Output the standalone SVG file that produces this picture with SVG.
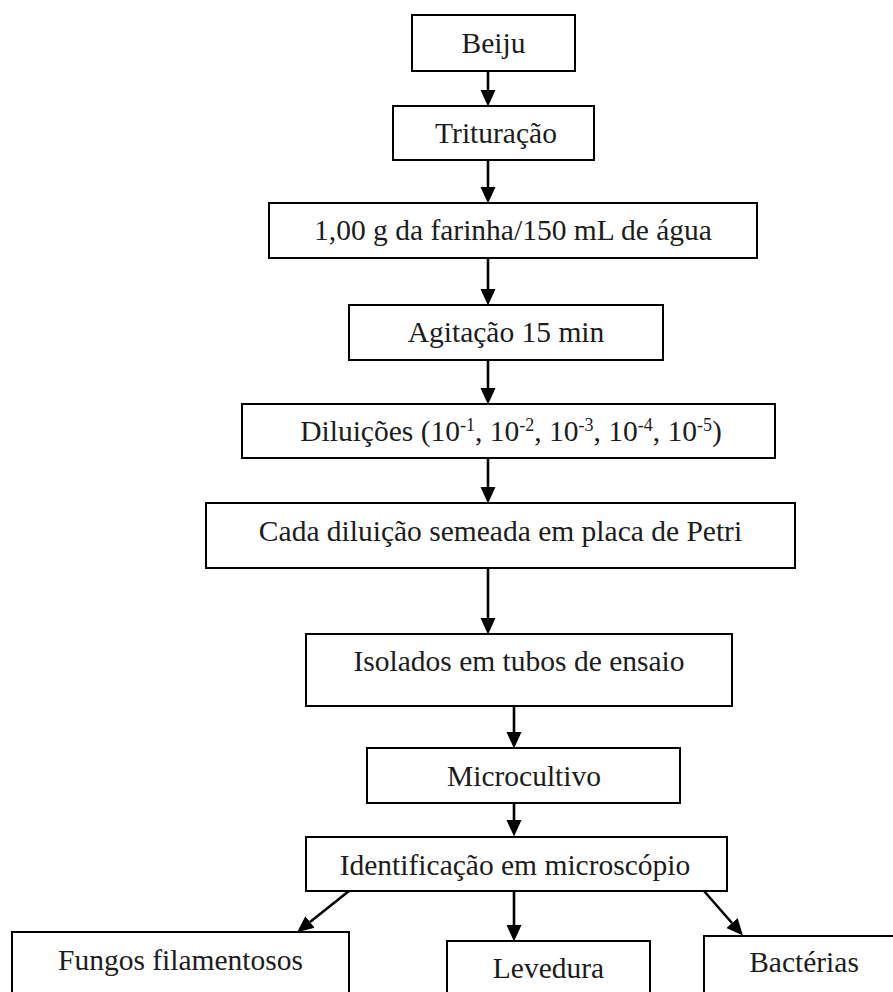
<svg xmlns="http://www.w3.org/2000/svg" width="893" height="992" viewBox="0 0 893 992">
<defs>
<style>
.box{fill:#fff;stroke:#000;stroke-width:2}
.lbl{font-family:"Liberation Serif","Times New Roman",serif;font-size:29.5px;fill:#1c1c1c;text-anchor:middle}
.sup{font-size:18px}
.con{stroke:#000;stroke-width:2.6;fill:none}
</style>
<marker id="ah" markerUnits="userSpaceOnUse" markerWidth="17" markerHeight="16" refX="0" refY="7.5" orient="auto" viewBox="0 0 17 15">
<path d="M0,0 L16.5,7.5 L0,15 z" fill="#000"/>
</marker>
</defs>
<rect width="893" height="992" fill="#fff"/>
<g id="connectors">
<line class="con" x1="488" y1="71" x2="488" y2="90" marker-end="url(#ah)"/>
<line class="con" x1="488" y1="160" x2="488" y2="187" marker-end="url(#ah)"/>
<line class="con" x1="488" y1="258" x2="488" y2="289" marker-end="url(#ah)"/>
<line class="con" x1="488" y1="360" x2="488" y2="388" marker-end="url(#ah)"/>
<line class="con" x1="488" y1="458" x2="488" y2="487" marker-end="url(#ah)"/>
<line class="con" x1="488" y1="568" x2="488" y2="618" marker-end="url(#ah)"/>
<line class="con" x1="514" y1="706" x2="514" y2="732" marker-end="url(#ah)"/>
<line class="con" x1="514" y1="803" x2="514" y2="820" marker-end="url(#ah)"/>
<line class="con" x1="349" y1="891" x2="310" y2="922" marker-end="url(#ah)"/>
<line class="con" x1="514" y1="891" x2="514" y2="925" marker-end="url(#ah)"/>
<line class="con" x1="704" y1="891" x2="732" y2="923" marker-end="url(#ah)"/>
</g>
<g id="n-beiju"><rect class="box" x="412" y="15" width="163" height="56"/><text class="lbl" x="493.5" y="53">Beiju</text></g>
<g id="n-trituracao"><rect class="box" x="393" y="106" width="201" height="54"/><text class="lbl" x="496" y="143">Trituração</text></g>
<g id="n-farinha"><rect class="box" x="269" y="203" width="488" height="55"/><text class="lbl" x="513" y="240">1,00 g da farinha/150 mL de água</text></g>
<g id="n-agitacao"><rect class="box" x="349" y="305" width="314" height="55"/><text class="lbl" x="506" y="342">Agitação 15 min</text></g>
<g id="n-diluicoes"><rect class="box" x="242" y="404" width="533" height="54"/><text class="lbl" x="511" y="441">Diluições (10<tspan class="sup" dy="-10">-1</tspan><tspan dy="10">, 10</tspan><tspan class="sup" dy="-10">-2</tspan><tspan dy="10">, 10</tspan><tspan class="sup" dy="-10">-3</tspan><tspan dy="10">, 10</tspan><tspan class="sup" dy="-10">-4</tspan><tspan dy="10">, 10</tspan><tspan class="sup" dy="-10">-5</tspan><tspan dy="10">)</tspan></text></g>
<g id="n-cada"><rect class="box" x="206" y="503" width="589" height="65"/><text class="lbl" x="500.5" y="541">Cada diluição semeada em placa de Petri</text></g>
<g id="n-isolados"><rect class="box" x="306" y="634" width="426" height="72"/><text class="lbl" x="519" y="671">Isolados em tubos de ensaio</text></g>
<g id="n-microcultivo"><rect class="box" x="367" y="748" width="313" height="55"/><text class="lbl" x="524" y="786">Microcultivo</text></g>
<g id="n-identificacao"><rect class="box" x="306" y="837" width="421" height="54"/><text class="lbl" x="515" y="875">Identificação em microscópio</text></g>
<g id="n-fungos"><rect class="box" x="12" y="932" width="337" height="80"/><text class="lbl" x="180.5" y="970">Fungos filamentosos</text></g>
<g id="n-levedura"><rect class="box" x="447" y="941" width="203" height="70"/><text class="lbl" x="548.5" y="978">Levedura</text></g>
<g id="n-bacterias"><rect class="box" x="704" y="936" width="205" height="70"/><text class="lbl" x="804" y="972">Bactérias</text></g>
</svg>
